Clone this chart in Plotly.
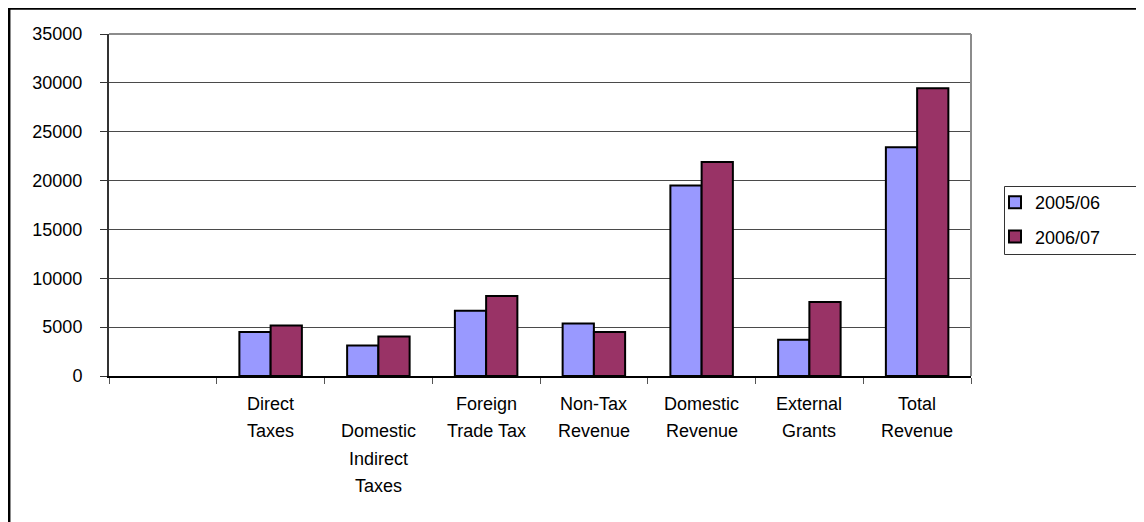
import plotly.graph_objects as go

categories = [" ", "Direct Taxes", "Domestic Indirect Taxes", "Foreign Trade Tax",
              "Non-Tax Revenue", "Domestic Revenue", "External Grants", "Total Revenue"]
# wrapped label lines as shown under the axis (blank first line for the 3-line label)
label_lines = [
    [],
    ["Direct", "Taxes"],
    ["", "Domestic", "Indirect", "Taxes"],
    ["Foreign", "Trade Tax"],
    ["Non-Tax", "Revenue"],
    ["Domestic", "Revenue"],
    ["External", "Grants"],
    ["Total", "Revenue"],
]
series_names = ["2005/06", "2006/07"]
values_2005 = [None, 4500, 3130, 6680, 5380, 19490, 3710, 23400]
values_2006 = [None, 5180, 4050, 8190, 4500, 21900, 7570, 29450]
colors = ["#9999FF", "#993366"]

FONT = "Liberation Sans, Arial, sans-serif"
W, H = 1144, 522
L, R, T, B = 101, 963, 26, 368
pw, ph = R - L, B - T


def px_x(p):
    return (p - L) / pw


def px_y(p):
    return (B - p) / ph


fig = go.Figure()
for i, (name, vals) in enumerate(zip(series_names, [values_2005, values_2006])):
    fig.add_trace(go.Bar(
        x=categories, y=vals, name=name,
        marker=dict(color=colors[i], line=dict(color="black", width=2)),
        legendgroup=name,
    ))

annotations = []
for cat, lines in zip(categories, label_lines):
    for j, line in enumerate(lines):
        if not line:
            continue
        annotations.append(dict(
            x=cat, xref="x", y=0, yref="paper", yanchor="middle", xanchor="center",
            yshift=-(28 + j * 27.4), text=line, showarrow=False,
            font=dict(family=FONT, size=18, color="black"),
        ))

shapes = [
    # plot area border top & right (gray)
    dict(type="line", xref="paper", yref="paper", x0=0, x1=1, y0=1, y1=1,
         line=dict(color="#8c8c8c", width=2), layer="above"),
    dict(type="line", xref="paper", yref="paper", x0=1, x1=1, y0=0, y1=1,
         line=dict(color="#8c8c8c", width=2), layer="above"),
    # outer chart border (top and left; right/bottom lie outside the view)
    dict(type="line", xref="paper", yref="paper", x0=px_x(0), x1=px_x(1200),
         y0=px_y(0.5), y1=px_y(0.5), line=dict(color="black", width=2.5)),
    dict(type="line", xref="paper", yref="paper", x0=px_x(1.2), x1=px_x(1.2),
         y0=px_y(0), y1=px_y(560), line=dict(color="black", width=2.5)),
    # legend box (extends past right edge)
    dict(type="rect", xref="paper", yref="paper", x0=px_x(996.5), x1=px_x(1200),
         y0=px_y(178.5), y1=px_y(246.5), line=dict(color="#333", width=1),
         fillcolor="rgba(0,0,0,0)"),
]

fig.update_layout(
    width=W, height=H,
    margin=dict(l=L, r=W - R, t=T, b=H - B, pad=0),
    paper_bgcolor="white", plot_bgcolor="white",
    barmode="group", bargap=0.42, bargroupgap=0,
    font=dict(family=FONT, size=18, color="black"),
    showlegend=True,
    legend=dict(
        x=px_x(987), y=px_y(176), xanchor="left", yanchor="top",
        bgcolor="rgba(0,0,0,0)", borderwidth=0,
        font=dict(family=FONT, size=18, color="black"),
        tracegroupgap=8, itemwidth=30,
    ),
    annotations=annotations,
    shapes=shapes,
)
fig.update_xaxes(
    type="category", categoryorder="array", categoryarray=categories,
    range=[-0.5, len(categories) - 0.5],
    showline=True, linecolor="black", linewidth=2,
    ticks="outside", tickson="boundaries", ticklen=6, tickcolor="#555", tickwidth=1,
    showticklabels=False, showgrid=False, zeroline=False,
)
fig.update_yaxes(
    range=[0, 35000], dtick=5000, tick0=0, tickformat="d",
    showline=True, linecolor="#333", linewidth=2,
    ticks="outside", ticklen=7, tickcolor="#333", tickwidth=1,
    showgrid=True, gridcolor="#4a4a4a", gridwidth=1, zeroline=False,
    tickfont=dict(family=FONT, size=18, color="black"),
    ticklabelstandoff=14,
)

fig.write_html("out.html")
